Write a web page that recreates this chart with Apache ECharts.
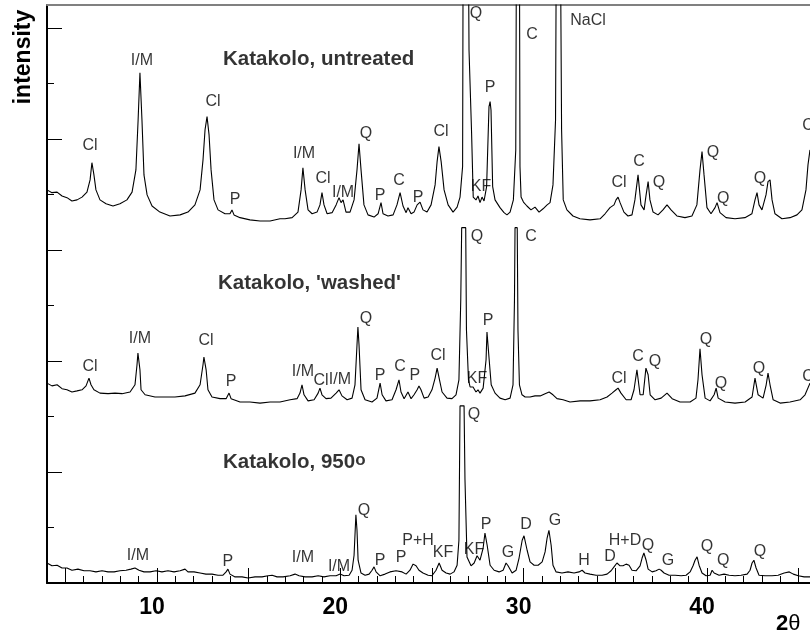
<!DOCTYPE html>
<html>
<head>
<meta charset="utf-8">
<script src="https://cdn.jsdelivr.net/npm/echarts@6/dist/echarts.min.js"></script>
<style>
  html, body { margin: 0; padding: 0; background: #fff; }
  #xrd { width: 810px; height: 634px; }
</style>
</head>
<body>
<div id="xrd"></div>
<script>
// 2theta / intensity pairs (intensity in axis tick units)
const untreated = [
  [4.00, 7.08], [4.27, 7.03], [4.55, 7.04], [4.82, 6.97], [5.09, 6.94], [5.36, 6.88], [5.64, 6.90],
  [5.91, 6.95], [6.18, 7.04], [6.35, 7.26], [6.45, 7.57], [6.56, 7.35], [6.67, 7.08], [6.89, 6.90],
  [7.22, 6.83], [7.60, 6.79], [7.98, 6.83], [8.36, 6.90], [8.64, 7.04], [8.85, 7.44], [8.97, 8.34],
  [9.07, 9.19], [9.18, 8.34], [9.29, 7.35], [9.46, 6.99], [9.73, 6.79], [10.16, 6.68], [10.71, 6.61],
  [11.26, 6.63], [11.69, 6.68], [12.07, 6.81], [12.35, 7.08], [12.51, 7.62], [12.62, 8.16], [12.73, 8.40],
  [12.84, 8.07], [12.95, 7.44], [13.11, 6.90], [13.33, 6.72], [13.71, 6.65], [13.98, 6.65], [14.09, 6.72],
  [14.20, 6.63], [14.53, 6.58], [15.07, 6.54], [15.62, 6.52], [16.17, 6.52], [16.71, 6.56], [16.98, 6.56],
  [17.37, 6.58], [17.69, 6.68], [17.86, 7.08], [17.96, 7.48], [18.08, 7.08], [18.24, 6.72], [18.46, 6.65],
  [18.73, 6.68], [18.89, 6.81], [19.00, 7.03], [19.11, 6.81], [19.28, 6.65], [19.55, 6.67], [19.77, 6.81],
  [19.93, 6.94], [20.04, 6.85], [20.15, 6.90], [20.31, 6.68], [20.53, 6.68], [20.75, 6.90], [20.91, 7.44],
  [21.02, 7.91], [21.13, 7.44], [21.29, 6.81], [21.51, 6.63], [21.84, 6.59], [22.06, 6.65], [22.22, 6.85],
  [22.33, 6.65], [22.60, 6.61], [22.88, 6.63], [23.09, 6.81], [23.26, 7.03], [23.42, 6.79], [23.59, 6.67],
  [23.69, 6.76], [23.86, 6.65], [24.02, 6.68], [24.19, 6.81], [24.35, 6.86], [24.51, 6.72], [24.73, 6.68],
  [24.95, 6.81], [25.17, 7.17], [25.28, 7.59], [25.38, 7.86], [25.50, 7.59], [25.66, 7.08], [25.88, 6.81],
  [26.15, 6.68], [26.37, 6.77], [26.53, 6.95], [26.67, 7.50], [26.71, 13], [26.96, 13], [27.02, 9.60],
  [27.16, 8.11], [27.25, 6.95], [27.40, 6.90], [27.51, 6.97], [27.62, 6.85], [27.73, 6.95], [27.84, 6.88],
  [27.98, 7.14], [28.11, 8.58], [28.17, 8.67], [28.22, 8.52], [28.31, 7.14], [28.44, 6.90], [28.71, 6.76],
  [28.93, 6.67], [29.09, 6.63], [29.26, 6.68], [29.44, 6.90], [29.57, 7.80], [29.62, 13], [29.76, 13],
  [29.80, 7.50], [29.86, 6.95], [29.99, 6.86], [30.18, 6.79], [30.40, 6.72], [30.62, 6.77], [30.84, 6.68],
  [31.06, 6.74], [31.28, 6.81], [31.44, 6.85], [31.60, 7.17], [31.74, 8.34], [31.80, 13], [31.98, 13],
  [32.07, 8.16], [32.16, 6.90], [32.36, 6.72], [32.69, 6.61], [33.07, 6.56], [33.62, 6.54], [34.17, 6.56],
  [34.44, 6.65], [34.71, 6.76], [34.93, 6.81], [35.04, 6.90], [35.15, 6.95], [35.26, 6.85], [35.47, 6.68],
  [35.69, 6.61], [35.91, 6.63], [36.07, 6.90], [36.24, 7.35], [36.40, 6.81], [36.57, 6.72], [36.68, 6.99],
  [36.79, 7.23], [36.89, 6.90], [37.06, 6.68], [37.33, 6.63], [37.60, 6.72], [37.82, 6.81], [38.04, 6.72],
  [38.36, 6.61], [38.80, 6.58], [39.18, 6.61], [39.45, 6.81], [39.62, 7.44], [39.73, 7.77], [39.84, 7.35],
  [40.00, 6.76], [40.22, 6.65], [40.44, 6.76], [40.55, 6.85], [40.71, 6.67], [41.04, 6.58], [41.53, 6.56],
  [42.07, 6.58], [42.45, 6.65], [42.62, 6.90], [42.73, 7.03], [42.84, 6.81], [43.00, 6.72], [43.22, 6.99],
  [43.33, 7.23], [43.44, 7.26], [43.55, 6.90], [43.71, 6.65], [44.09, 6.56], [44.53, 6.58], [44.91, 6.63],
  [45.18, 6.72], [45.40, 7.08], [45.51, 7.53], [45.62, 7.80]
];

const washed = [
  [4.00, 3.60], [4.27, 3.55], [4.55, 3.57], [4.82, 3.50], [5.09, 3.48], [5.36, 3.44], [5.64, 3.46],
  [5.91, 3.48], [6.13, 3.55], [6.29, 3.69], [6.40, 3.57], [6.56, 3.48], [6.89, 3.42], [7.33, 3.41],
  [7.71, 3.42], [8.09, 3.41], [8.53, 3.44], [8.80, 3.57], [8.91, 3.93], [8.96, 4.14], [9.07, 3.84],
  [9.13, 3.48], [9.35, 3.39], [9.89, 3.35], [10.44, 3.35], [10.98, 3.35], [11.53, 3.37], [12.07, 3.42],
  [12.35, 3.57], [12.51, 3.93], [12.56, 4.07], [12.68, 3.84], [12.78, 3.48], [13.00, 3.35], [13.44, 3.32],
  [13.77, 3.32], [13.93, 3.42], [14.04, 3.32], [14.53, 3.26], [15.07, 3.26], [15.62, 3.24], [16.17, 3.26],
  [16.71, 3.26], [17.26, 3.30], [17.64, 3.32], [17.80, 3.42], [17.91, 3.57], [18.02, 3.39], [18.24, 3.28],
  [18.57, 3.30], [18.79, 3.42], [18.89, 3.51], [19.00, 3.39], [19.22, 3.32], [19.49, 3.33], [19.77, 3.42],
  [19.93, 3.48], [20.09, 3.37], [20.37, 3.30], [20.64, 3.33], [20.80, 3.57], [20.91, 4.29], [20.96, 4.61],
  [21.02, 4.29], [21.13, 3.48], [21.35, 3.30], [21.73, 3.26], [22.00, 3.33], [22.17, 3.60], [22.28, 3.39],
  [22.49, 3.28], [22.82, 3.30], [23.04, 3.48], [23.20, 3.66], [23.31, 3.44], [23.48, 3.32], [23.69, 3.44],
  [23.86, 3.32], [24.02, 3.39], [24.19, 3.48], [24.29, 3.55], [24.40, 3.48], [24.57, 3.33], [24.79, 3.35],
  [25.00, 3.48], [25.17, 3.69], [25.28, 3.87], [25.39, 3.69], [25.55, 3.44], [25.82, 3.33], [26.09, 3.32],
  [26.31, 3.39], [26.47, 3.66], [26.57, 5.10], [26.62, 6.40], [26.84, 6.40], [26.88, 4.56], [26.99, 3.66],
  [27.08, 3.53], [27.24, 3.53], [27.40, 3.44], [27.51, 3.48], [27.62, 3.42], [27.79, 3.51], [27.95, 4.02],
  [28.00, 4.52], [28.12, 4.02], [28.23, 3.57], [28.44, 3.42], [28.71, 3.33], [28.99, 3.30], [29.26, 3.33],
  [29.42, 3.57], [29.50, 5.10], [29.53, 6.40], [29.65, 6.40], [29.69, 4.56], [29.77, 3.57], [29.91, 3.39],
  [30.08, 3.35], [30.35, 3.35], [30.62, 3.37], [30.90, 3.37], [31.17, 3.41], [31.39, 3.44], [31.60, 3.39],
  [31.82, 3.32], [32.15, 3.30], [32.53, 3.26], [33.08, 3.28], [33.62, 3.28], [34.17, 3.30], [34.55, 3.35],
  [34.82, 3.42], [35.04, 3.48], [35.15, 3.51], [35.31, 3.42], [35.59, 3.30], [35.86, 3.30], [36.02, 3.48],
  [36.18, 3.84], [36.35, 3.39], [36.52, 3.39], [36.67, 3.87], [36.79, 3.75], [36.90, 3.39], [37.17, 3.30],
  [37.50, 3.33], [37.82, 3.42], [38.10, 3.32], [38.53, 3.26], [39.08, 3.26], [39.40, 3.33], [39.51, 3.66],
  [39.62, 4.22], [39.73, 3.75], [39.90, 3.33], [40.17, 3.28], [40.39, 3.39], [40.50, 3.51], [40.61, 3.33],
  [40.99, 3.26], [41.53, 3.24], [42.08, 3.26], [42.46, 3.35], [42.62, 3.69], [42.79, 3.39], [43.06, 3.33],
  [43.23, 3.57], [43.33, 3.78], [43.44, 3.57], [43.61, 3.30], [43.99, 3.24], [44.53, 3.26], [45.08, 3.30],
  [45.35, 3.39], [45.62, 3.60]
];

const fired = [
  [4.00, 0.36], [4.27, 0.31], [4.55, 0.32], [4.82, 0.27], [5.09, 0.27], [5.36, 0.23], [5.69, 0.25],
  [6.02, 0.22], [6.35, 0.22], [6.67, 0.20], [7.00, 0.22], [7.33, 0.20], [7.66, 0.20], [7.98, 0.22],
  [8.31, 0.23], [8.58, 0.25], [8.80, 0.27], [9.02, 0.23], [9.29, 0.20], [9.62, 0.20], [9.95, 0.22],
  [10.27, 0.20], [10.60, 0.22], [10.93, 0.20], [11.26, 0.22], [11.53, 0.25], [11.69, 0.20], [12.02, 0.20],
  [12.35, 0.18], [12.67, 0.16], [13.00, 0.16], [13.33, 0.14], [13.60, 0.14], [13.77, 0.20], [13.87, 0.25],
  [13.98, 0.16], [14.26, 0.11], [14.64, 0.11], [14.97, 0.09], [15.35, 0.11], [15.73, 0.11], [16.06, 0.13],
  [16.28, 0.14], [16.55, 0.11], [16.88, 0.11], [17.26, 0.13], [17.53, 0.16], [17.75, 0.13], [18.08, 0.11],
  [18.46, 0.11], [18.79, 0.13], [19.11, 0.11], [19.44, 0.13], [19.77, 0.13], [19.99, 0.16], [20.20, 0.13],
  [20.48, 0.14], [20.64, 0.23], [20.75, 0.50], [20.85, 1.23], [20.91, 0.95], [20.97, 0.41], [21.13, 0.18],
  [21.35, 0.14], [21.57, 0.16], [21.73, 0.23], [21.84, 0.29], [21.95, 0.20], [22.17, 0.13], [22.44, 0.16],
  [22.71, 0.20], [23.04, 0.22], [23.37, 0.20], [23.59, 0.16], [23.80, 0.23], [23.97, 0.34], [24.13, 0.31],
  [24.29, 0.23], [24.51, 0.18], [24.79, 0.14], [25.00, 0.13], [25.22, 0.23], [25.39, 0.36], [25.55, 0.23],
  [25.77, 0.18], [25.99, 0.16], [26.20, 0.20], [26.37, 0.32], [26.47, 0.77], [26.53, 3.19], [26.75, 3.19],
  [26.80, 1.86], [26.91, 0.47], [27.13, 0.31], [27.30, 0.36], [27.46, 0.49], [27.62, 0.41], [27.79, 0.63],
  [27.89, 0.90], [28.01, 0.68], [28.17, 0.32], [28.39, 0.23], [28.66, 0.20], [28.88, 0.23], [29.04, 0.36],
  [29.15, 0.31], [29.37, 0.18], [29.59, 0.23], [29.75, 0.45], [29.92, 0.77], [30.02, 0.85], [30.19, 0.59],
  [30.35, 0.38], [30.57, 0.32], [30.79, 0.32], [31.01, 0.38], [31.17, 0.56], [31.28, 0.81], [31.38, 0.95],
  [31.50, 0.68], [31.60, 0.32], [31.77, 0.20], [32.09, 0.18], [32.42, 0.20], [32.75, 0.18], [33.02, 0.20],
  [33.19, 0.23], [33.35, 0.18], [33.62, 0.16], [33.95, 0.14], [34.28, 0.14], [34.55, 0.16], [34.77, 0.22],
  [34.93, 0.29], [35.09, 0.36], [35.26, 0.31], [35.42, 0.31], [35.59, 0.34], [35.75, 0.32], [35.91, 0.23],
  [36.13, 0.22], [36.35, 0.31], [36.46, 0.45], [36.56, 0.54], [36.68, 0.41], [36.79, 0.25], [37.01, 0.20],
  [37.22, 0.22], [37.39, 0.25], [37.50, 0.23], [37.66, 0.18], [37.93, 0.14], [38.26, 0.14], [38.59, 0.13],
  [38.86, 0.14], [39.08, 0.20], [39.24, 0.31], [39.35, 0.41], [39.46, 0.47], [39.57, 0.32], [39.73, 0.18],
  [39.95, 0.13], [40.17, 0.14], [40.28, 0.23], [40.39, 0.18], [40.66, 0.14], [40.93, 0.16], [41.21, 0.14],
  [41.53, 0.13], [41.86, 0.14], [42.19, 0.16], [42.35, 0.23], [42.46, 0.36], [42.56, 0.41], [42.68, 0.27],
  [42.84, 0.14], [43.17, 0.13], [43.55, 0.13], [43.88, 0.14], [44.21, 0.18], [44.49, 0.20], [44.71, 0.16],
  [44.98, 0.13], [45.30, 0.11], [45.62, 0.11]
];

// phase labels: [text, 2theta, intensity]
const untreatedPeaks = [
  ['Cl', 6.35, 7.87], ['I/M', 9.18, 9.40], ['Cl', 13.06, 8.67], ['P', 14.26, 6.90],
  ['I/M', 18.02, 7.73], ['Cl', 19.06, 7.28], ['I/M', 20.15, 7.04], ['Q', 21.40, 8.09],
  ['P', 22.17, 6.97], ['C', 23.20, 7.24], ['P', 24.24, 6.95], ['Cl', 25.49, 8.13],
  ['Q', 27.40, 10.25], ['KF', 27.67, 7.14], ['P', 28.17, 8.92], ['C', 30.46, 9.87],
  ['NaCl', 33.51, 10.13], ['Cl', 35.20, 7.21], ['C', 36.29, 7.59], ['Q', 37.38, 7.21],
  ['Q', 40.33, 7.75], ['Q', 40.88, 6.92], ['Q', 42.89, 7.28], ['C', 45.51, 8.23]
];
const washedPeaks = [
  ['Cl', 6.35, 3.89], ['I/M', 9.07, 4.41], ['Cl', 12.67, 4.36], ['P', 14.04, 3.62],
  ['I/M', 17.96, 3.80], ['Cl', 18.95, 3.64], ['I/M', 19.98, 3.66], ['Q', 21.40, 4.76],
  ['P', 22.17, 3.73], ['C', 23.26, 3.89], ['P', 24.07, 3.73], ['Cl', 25.33, 4.09],
  ['Q', 27.46, 6.23], ['KF', 27.46, 3.69], ['P', 28.06, 4.72], ['C', 30.40, 6.23],
  ['Cl', 35.20, 3.68], ['C', 36.24, 4.07], ['Q', 37.17, 3.98], ['Q', 39.95, 4.38],
  ['Q', 40.77, 3.59], ['Q', 42.84, 3.86], ['C', 45.51, 3.71]
];
const firedPeaks = [
  ['I/M', 8.96, 0.50], ['P', 13.87, 0.38], ['I/M', 17.96, 0.45], ['I/M', 19.93, 0.29],
  ['Q', 21.29, 1.30], ['P', 22.17, 0.40], ['P', 23.31, 0.45], ['P+H', 24.24, 0.77],
  ['KF', 25.60, 0.54], ['Q', 27.29, 3.03], ['KF', 27.29, 0.61], ['P', 27.95, 1.05],
  ['G', 29.15, 0.54], ['D', 30.13, 1.06], ['G', 31.71, 1.12], ['H', 33.29, 0.40],
  ['D', 34.71, 0.47], ['H+D', 35.53, 0.77], ['Q', 36.78, 0.67], ['G', 37.87, 0.40],
  ['Q', 40.00, 0.65], ['Q', 40.88, 0.41], ['Q', 42.89, 0.56]
];

// sample titles: [text, 2theta at left edge, intensity]
const sampleTitles = [
  ['Katakolo, untreated', 13.60, 9.44],
  ["Katakolo, 'washed'", 13.33, 5.39],
  ['Katakolo, 950{o|o}', 13.60, 2.18]
];

const xMin = 4, xMax = 45.62;
const yMin = 0, yMax = 10.41;
const xMajorTicks = [5, 10, 15, 20, 25, 30, 35, 40, 45];
const xMinorTicks = [5, 6, 7, 8, 9, 10, 11, 12, 13, 14, 15, 16, 17, 18, 19, 20, 21, 22, 23, 24, 25,
  26, 27, 28, 29, 30, 31, 32, 33, 34, 35, 36, 37, 38, 39, 40, 41, 42, 43, 44, 45];
const xTickLabels = [10, 20, 30, 40];
const yMajorTicks = [0, 2, 4, 6, 8, 10];
const yMinorTicks = [1, 3, 5, 7, 9];

const font = "'Liberation Sans', Arial, Helvetica, sans-serif";

function peakSeries (list) {
  return {
    type: 'scatter',
    symbolSize: 0,
    silent: true,
    data: list.map(p => ({ name: p[0], value: [p[1], p[2]] })),
    label: {
      show: true,
      position: 'inside',
      formatter: '{b}',
      color: '#000',
      fontFamily: font,
      fontSize: 16
    }
  }
}

function traceSeries (data) {
  return {
    type: 'line',
    data: data,
    symbol: 'none',
    clip: true,
    silent: true,
    lineStyle: { color: '#000', width: 1.1 }
  }
}

let myChart = echarts.init(document.getElementById('xrd'))
myChart.setOption({
  animation: false,
  backgroundColor: '#fff',
  grid: { left: 47, right: 0, top: 5, bottom: 51 },
  xAxis: [
    {
      type: 'value', min: xMin, max: xMax, position: 'bottom',
      axisLine: { lineStyle: { color: '#000', width: 2 } },
      axisTick: { customValues: xMajorTicks, inside: true, length: 15, lineStyle: { color: '#000', width: 1 } },
      axisLabel: {
        customValues: xTickLabels, margin: 13, color: '#000', fontFamily: font,
        fontSize: 23, fontWeight: 'bold', padding: [0, 10, 0, 0]
      },
      splitLine: { show: false }
    },
    {
      type: 'value', min: xMin, max: xMax, position: 'bottom', offset: 0,
      axisLine: { show: false },
      axisTick: { customValues: xMinorTicks, inside: true, length: 7, lineStyle: { color: '#000', width: 1 } },
      axisLabel: { show: false },
      splitLine: { show: false }
    },
    {
      type: 'value', min: xMin, max: xMax, position: 'top',
      axisLine: { lineStyle: { color: '#808080', width: 2 } },
      axisTick: { show: false },
      axisLabel: { show: false },
      splitLine: { show: false }
    }
  ],
  yAxis: [
    {
      type: 'value', min: yMin, max: yMax, position: 'left',
      axisLine: { show: true, lineStyle: { color: '#000', width: 2 } },
      axisTick: { show: true, customValues: yMajorTicks, inside: true, length: 15, lineStyle: { color: '#000', width: 1 } },
      axisLabel: { show: false },
      splitLine: { show: false }
    },
    {
      type: 'value', min: yMin, max: yMax, position: 'left', offset: 0,
      axisLine: { show: false },
      axisTick: { show: true, customValues: yMinorTicks, inside: true, length: 7, lineStyle: { color: '#000', width: 1 } },
      axisLabel: { show: false },
      splitLine: { show: false }
    }
  ],
  graphic: [
    {
      type: 'text', x: 24, y: 57, rotation: Math.PI / 2,
      style: {
        text: 'intensity', fill: '#000', font: 'bold 23px ' + font,
        textAlign: 'center', textVerticalAlign: 'middle'
      }
    },
    {
      type: 'text', x: 776, y: 624,
      style: {
        text: '{a|2}{b|θ}',
        rich: {
          a: { fontSize: 22, fontWeight: 'bold', fontFamily: font, fill: '#000' },
          b: { fontSize: 22, fontFamily: font, fill: '#000' }
        },
        textAlign: 'left', textVerticalAlign: 'middle'
      }
    }
  ],
  series: [
    traceSeries(untreated),
    traceSeries(washed),
    traceSeries(fired),
    peakSeries(untreatedPeaks),
    peakSeries(washedPeaks),
    peakSeries(firedPeaks),
    {
      type: 'scatter',
      symbolSize: 0,
      silent: true,
      data: sampleTitles.map(t => ({ name: t[0], value: [t[1], t[2]] })),
      label: {
        show: true,
        position: 'right',
        distance: 0,
        formatter: '{b}',
        color: '#000',
        fontFamily: font,
        fontSize: 20.5,
        fontWeight: 'bold',
        rich: {
          o: { fontFamily: font, fontSize: 17, fontWeight: 'bold', color: '#000', lineHeight: 12, verticalAlign: 'top' }
        }
      }
    }
  ]
})
</script>
</body>
</html>
